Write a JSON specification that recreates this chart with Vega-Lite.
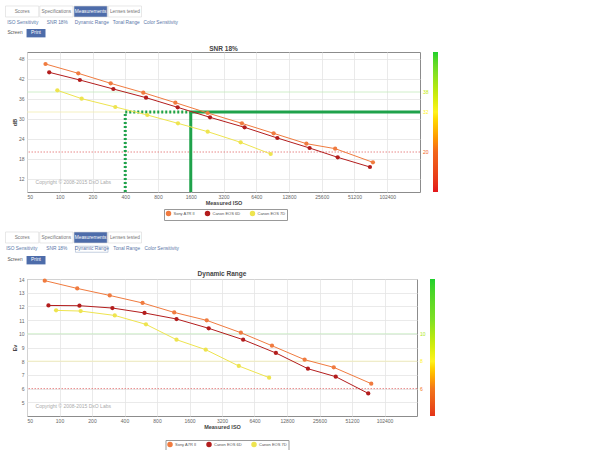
{
  "$schema": "https://vega.github.io/schema/vega-lite/v6.json",
  "background": "white",
  "padding": 5,
  "columns": 1,
  "align": "none",
  "spacing": 0,
  "datasets": {
    "tabs": [{"label": "Scores"}, {"label": "Specifications"}, {"label": "Measurements"}, {"label": "Lenses tested"}],
    "links": [{"label": "ISO Sensitivity"}, {"label": "SNR 18%"}, {"label": "Dynamic Range"}, {"label": "Tonal Range"}, {"label": "Color Sensitivity"}],
    "modes": [{"label": "Screen"}, {"label": "Print"}],
    "snr": [
      {"camera": "Sony A7R II", "iso": 74, "value": 46.4},
      {"camera": "Sony A7R II", "iso": 148, "value": 43.6},
      {"camera": "Sony A7R II", "iso": 294, "value": 40.6},
      {"camera": "Sony A7R II", "iso": 586, "value": 37.8},
      {"camera": "Sony A7R II", "iso": 1155, "value": 34.8},
      {"camera": "Sony A7R II", "iso": 2290, "value": 31.7},
      {"camera": "Sony A7R II", "iso": 4725, "value": 28.6},
      {"camera": "Sony A7R II", "iso": 9250, "value": 25.6},
      {"camera": "Sony A7R II", "iso": 18490, "value": 22.5},
      {"camera": "Sony A7R II", "iso": 34000, "value": 21.0},
      {"camera": "Sony A7R II", "iso": 75600, "value": 16.9},
      {"camera": "Canon EOS 6D", "iso": 80, "value": 43.9},
      {"camera": "Canon EOS 6D", "iso": 153, "value": 41.6},
      {"camera": "Canon EOS 6D", "iso": 311, "value": 38.9},
      {"camera": "Canon EOS 6D", "iso": 621, "value": 36.3},
      {"camera": "Canon EOS 6D", "iso": 1213, "value": 33.4},
      {"camera": "Canon EOS 6D", "iso": 2406, "value": 30.4},
      {"camera": "Canon EOS 6D", "iso": 5000, "value": 27.4},
      {"camera": "Canon EOS 6D", "iso": 10000, "value": 24.2},
      {"camera": "Canon EOS 6D", "iso": 19800, "value": 21.2},
      {"camera": "Canon EOS 6D", "iso": 35900, "value": 18.4},
      {"camera": "Canon EOS 6D", "iso": 71000, "value": 15.5},
      {"camera": "Canon EOS 7D", "iso": 95, "value": 38.5},
      {"camera": "Canon EOS 7D", "iso": 159, "value": 36.0},
      {"camera": "Canon EOS 7D", "iso": 324, "value": 33.5},
      {"camera": "Canon EOS 7D", "iso": 638, "value": 31.1},
      {"camera": "Canon EOS 7D", "iso": 1221, "value": 28.6},
      {"camera": "Canon EOS 7D", "iso": 2290, "value": 26.1},
      {"camera": "Canon EOS 7D", "iso": 4600, "value": 22.9},
      {"camera": "Canon EOS 7D", "iso": 8690, "value": 19.4}
    ],
    "dr": [
      {"camera": "Sony A7R II", "iso": 73, "value": 13.88},
      {"camera": "Sony A7R II", "iso": 146, "value": 13.31},
      {"camera": "Sony A7R II", "iso": 292, "value": 12.8},
      {"camera": "Sony A7R II", "iso": 588, "value": 12.25},
      {"camera": "Sony A7R II", "iso": 1155, "value": 11.56},
      {"camera": "Sony A7R II", "iso": 2310, "value": 10.98},
      {"camera": "Sony A7R II", "iso": 4785, "value": 10.08},
      {"camera": "Sony A7R II", "iso": 9290, "value": 9.13},
      {"camera": "Sony A7R II", "iso": 18650, "value": 8.11},
      {"camera": "Sony A7R II", "iso": 34700, "value": 7.55},
      {"camera": "Sony A7R II", "iso": 77200, "value": 6.36},
      {"camera": "Canon EOS 6D", "iso": 79, "value": 12.07},
      {"camera": "Canon EOS 6D", "iso": 153, "value": 12.05},
      {"camera": "Canon EOS 6D", "iso": 309, "value": 11.88},
      {"camera": "Canon EOS 6D", "iso": 613, "value": 11.52},
      {"camera": "Canon EOS 6D", "iso": 1213, "value": 11.08},
      {"camera": "Canon EOS 6D", "iso": 2410, "value": 10.4},
      {"camera": "Canon EOS 6D", "iso": 5025, "value": 9.57},
      {"camera": "Canon EOS 6D", "iso": 10100, "value": 8.6},
      {"camera": "Canon EOS 6D", "iso": 20000, "value": 7.45},
      {"camera": "Canon EOS 6D", "iso": 36200, "value": 6.87},
      {"camera": "Canon EOS 6D", "iso": 72400, "value": 5.65},
      {"camera": "Canon EOS 7D", "iso": 93, "value": 11.71},
      {"camera": "Canon EOS 7D", "iso": 157, "value": 11.66},
      {"camera": "Canon EOS 7D", "iso": 325, "value": 11.34},
      {"camera": "Canon EOS 7D", "iso": 632, "value": 10.69},
      {"camera": "Canon EOS 7D", "iso": 1213, "value": 9.57},
      {"camera": "Canon EOS 7D", "iso": 2262, "value": 8.84},
      {"camera": "Canon EOS 7D", "iso": 4580, "value": 7.65},
      {"camera": "Canon EOS 7D", "iso": 8740, "value": 6.8}
    ],
    "snrThresholds": [{"level": "good", "value": 38}, {"level": "average", "value": 32}, {"level": "poor", "value": 20}],
    "drThresholds": [{"level": "good", "value": 10}, {"level": "average", "value": 8}, {"level": "poor", "value": 6}],
    "snrMarker": [
      {"kind": "solid", "iso": 1600, "iso2": 204800, "value": 32, "value2": 32},
      {"kind": "solid", "iso": 1600, "iso2": 1600, "value": 8, "value2": 32},
      {"kind": "dotted", "iso": 400, "iso2": 1600, "value": 32, "value2": 32},
      {"kind": "dotted", "iso": 400, "iso2": 400, "value": 8, "value2": 32}
    ],
    "note": [{"text": "Copyright © 2008-2015 DxO Labs"}]
  },
  "concat": [
    {
      "width": 136, "height": 11, "view": {"stroke": null},
      "data": {"name": "tabs"},
      "encoding": {
        "x": {"field": "label", "type": "nominal", "axis": null, "scale": {"domain": ["Scores", "Specifications", "Measurements", "Lenses tested"], "paddingInner": 0.03, "paddingOuter": 0}}
      },
      "layer": [
        {"mark": {"type": "bar", "stroke": "#d9d9d9", "strokeWidth": 0.6, "xOffset": -21.5}, "encoding": {"fill": {"condition": {"test": "datum.label === 'Measurements'", "value": "#4d6caa"}, "value": "#ffffff"}}},
        {"mark": {"type": "text", "fontSize": 4.8, "baseline": "middle", "xOffset": -21.5}, "encoding": {"text": {"field": "label"}, "fill": {"condition": {"test": "datum.label === 'Measurements'", "value": "#ffffff"}, "value": "#777777"}}}
      ]
    },
    {
      "width": 172.5, "height": 10, "view": {"stroke": null},
      "data": {"name": "links"},
      "encoding": {
        "x": {"field": "label", "type": "nominal", "axis": null, "scale": {"domain": ["ISO Sensitivity", "SNR 18%", "Dynamic Range", "Tonal Range", "Color Sensitivity"], "paddingInner": 0.07, "paddingOuter": 0}}
      },
      "layer": [
        {"mark": {"type": "text", "fontSize": 4.8, "baseline": "middle", "fill": "#5b77a8", "xOffset": -21.5}, "encoding": {"text": {"field": "label"}}}
      ]
    },
    {
      "width": 40, "height": 16.5, "view": {"stroke": null},
      "data": {"name": "modes"},
      "encoding": {
        "x": {"field": "label", "type": "nominal", "axis": null, "scale": {"domain": ["Screen", "Print"], "paddingInner": 0.1, "paddingOuter": 0}},
        "y": {"datum": "mode", "type": "nominal", "axis": null, "scale": {"domain": ["mode"], "paddingInner": 0.2, "paddingOuter": 0.386, "align": 0.12}}
      },
      "layer": [
        {"transform": [{"filter": "datum.label === 'Print'"}], "mark": {"type": "bar", "fill": "#4d6caa", "xOffset": -21.5}},
        {"mark": {"type": "text", "fontSize": 4.8, "baseline": "middle", "xOffset": -21.5}, "encoding": {"text": {"field": "label"}, "fill": {"condition": {"test": "datum.label === 'Print'", "value": "#ffffff"}, "value": "#555555"}}}
      ]
    },
    {
      "width": 393,
      "height": 140,
      "title": {"text": "SNR 18%", "frame": "group", "anchor": "middle", "offset": 0},
      "layer": [
        {
          "data": {"name": "snrThresholds"},
          "mark": {"type": "rule", "strokeWidth": 0.8},
          "encoding": {
            "y": {"field": "value", "type": "quantitative", "title": "dB", "scale": {"domain": [8, 50], "nice": false, "zero": false}, "axis": {"values": [12, 18, 24, 30, 36, 42, 48], "tickCount": 20, "format": "d", "minExtent": 21.5, "titleX": -9.5}},
            "stroke": {"field": "level", "type": "nominal", "scale": {"domain": ["good", "average", "poor"], "range": ["#c4ebbd", "#f2eeb0", "#e26a6a"]}, "legend": null},
            "strokeDash": {"field": "level", "type": "nominal", "scale": {"domain": ["good", "average", "poor", "solid", "dotted"], "range": [[1, 0], [1, 0], [1.5, 1.5], [1, 0], [2, 2]]}, "legend": null}
          }
        },
        {
          "data": {"name": "snrMarker"},
          "mark": {"type": "rule", "strokeWidth": 3, "color": "#1fa24b", "strokeCap": "butt"},
          "encoding": {
            "x": {"field": "iso", "type": "quantitative", "title": "Measured ISO", "axis": {"values": [50, 100, 200, 400, 800, 1600, 3200, 6400, 12800, 25600, 51200, 102400], "tickCount": 20, "format": "d"}},
            "x2": {"field": "iso2"},
            "y": {"field": "value", "type": "quantitative", "title": "dB", "axis": {"values": [12, 18, 24, 30, 36, 42, 48], "tickCount": 20, "format": "d", "minExtent": 21.5, "titleX": -9.5}},
            "y2": {"field": "value2"},
            "strokeDash": {"field": "kind", "type": "nominal", "scale": {"domain": ["good", "average", "poor", "solid", "dotted"], "range": [[1, 0], [1, 0], [1.5, 1.5], [1, 0], [2, 2]]}, "legend": null}
          }
        },
        {
          "data": {"name": "snr"},
          "mark": {"type": "point", "filled": true, "size": 18, "opacity": 1},
          "encoding": {
            "x": {"field": "iso", "type": "quantitative", "title": "Measured ISO", "scale": {"type": "log", "base": 2, "domain": [50, 204800], "nice": false}, "axis": {"values": [50, 100, 200, 400, 800, 1600, 3200, 6400, 12800, 25600, 51200, 102400], "tickCount": 20, "format": "d"}},
            "y": {"field": "value", "type": "quantitative", "title": "dB", "axis": {"values": [12, 18, 24, 30, 36, 42, 48], "tickCount": 20, "format": "d", "minExtent": 21.5, "titleX": -9.5}},
            "color": {"field": "camera", "type": "nominal", "scale": {"domain": ["Sony A7R II", "Canon EOS 6D", "Canon EOS 7D"], "range": ["#f07b3f", "#b31d1d", "#eee44f"]}, "legend": {"title": null, "orient": "none", "legendX": 137, "legendY": 157, "direction": "horizontal", "symbolType": "circle", "symbolSize": 16, "labelFontSize": 4, "labelColor": "#555", "labelOffset": 2, "strokeColor": "#999", "padding": 1.5, "columnPadding": 7}}
          }
        },
        {
          "data": {"name": "snr"},
          "mark": {"type": "line", "strokeWidth": 1},
          "encoding": {
            "x": {"field": "iso", "type": "quantitative", "title": "Measured ISO", "axis": {"values": [50, 100, 200, 400, 800, 1600, 3200, 6400, 12800, 25600, 51200, 102400], "tickCount": 20, "format": "d"}},
            "y": {"field": "value", "type": "quantitative", "title": "dB", "axis": {"values": [12, 18, 24, 30, 36, 42, 48], "tickCount": 20, "format": "d", "minExtent": 21.5, "titleX": -9.5}},
            "color": {"field": "camera", "type": "nominal"}
          }
        },
        {
          "data": {"name": "snrThresholds"},
          "mark": {"type": "text", "fontSize": 5, "align": "left", "baseline": "middle", "dx": 3},
          "encoding": {
            "x": {"datum": 204800, "type": "quantitative"},
            "y": {"field": "value", "type": "quantitative", "title": "dB", "axis": {"values": [12, 18, 24, 30, 36, 42, 48], "tickCount": 20, "format": "d", "minExtent": 21.5, "titleX": -9.5}},
            "text": {"field": "value"},
            "fill": {"field": "value", "type": "quantitative", "scale": {"domain": [8, 20, 32, 44, 50], "range": ["#e3161b", "#f2651b", "#fff21e", "#7fe024", "#1fd02c"]}, "legend": {"title": null, "orient": "right", "direction": "vertical", "gradientLength": 140, "gradientThickness": 5, "offset": 13, "labelExpr": "''", "gradientStrokeWidth": 0}}
          }
        },
        {
          "data": {"name": "note"},
          "mark": {"type": "text", "fontSize": 5, "align": "left", "baseline": "middle", "fill": "#aaaaaa"},
          "encoding": {
            "x": {"datum": 60, "type": "quantitative"},
            "y": {"datum": 11, "type": "quantitative"},
            "text": {"field": "text"}
          }
        }
      ]
    },
    {
      "width": 136, "height": 22, "view": {"stroke": null},
      "data": {"name": "tabs"},
      "encoding": {
        "x": {"field": "label", "type": "nominal", "axis": null, "scale": {"domain": ["Scores", "Specifications", "Measurements", "Lenses tested"], "paddingInner": 0.03, "paddingOuter": 0}},
        "y": {"datum": "tabs", "type": "nominal", "axis": null, "scale": {"domain": ["tabs"], "paddingInner": 0, "paddingOuter": 0.5, "align": 1}}
      },
      "layer": [
        {"mark": {"type": "bar", "stroke": "#d9d9d9", "strokeWidth": 0.6, "xOffset": -21.5}, "encoding": {"fill": {"condition": {"test": "datum.label === 'Measurements'", "value": "#4d6caa"}, "value": "#ffffff"}}},
        {"mark": {"type": "text", "fontSize": 4.8, "baseline": "middle", "xOffset": -21.5}, "encoding": {"text": {"field": "label"}, "fill": {"condition": {"test": "datum.label === 'Measurements'", "value": "#ffffff"}, "value": "#777777"}}}
      ]
    },
    {
      "width": 172.5, "height": 10.5, "view": {"stroke": null},
      "data": {"name": "links"},
      "encoding": {
        "x": {"field": "label", "type": "nominal", "axis": null, "scale": {"domain": ["ISO Sensitivity", "SNR 18%", "Dynamic Range", "Tonal Range", "Color Sensitivity"], "paddingInner": 0.07, "paddingOuter": 0}},
        "y": {"datum": "links", "type": "nominal", "axis": null, "scale": {"domain": ["links"], "paddingInner": 0, "paddingOuter": 0.375, "align": 0.5}}
      },
      "layer": [
        {"transform": [{"filter": "datum.label === 'Dynamic Range'"}], "mark": {"type": "bar", "fill": "#ffffff", "stroke": "#9fb0cc", "strokeWidth": 0.6, "xOffset": -21.5}},
        {"mark": {"type": "text", "fontSize": 4.8, "baseline": "middle", "fill": "#5b77a8", "xOffset": -21.5}, "encoding": {"text": {"field": "label"}}}
      ]
    },
    {
      "width": 40, "height": 15, "view": {"stroke": null},
      "data": {"name": "modes"},
      "encoding": {
        "x": {"field": "label", "type": "nominal", "axis": null, "scale": {"domain": ["Screen", "Print"], "paddingInner": 0.1, "paddingOuter": 0}},
        "y": {"datum": "mode", "type": "nominal", "axis": null, "scale": {"domain": ["mode"], "paddingInner": 0.2, "paddingOuter": 0.314, "align": 0.15}}
      },
      "layer": [
        {"transform": [{"filter": "datum.label === 'Print'"}], "mark": {"type": "bar", "fill": "#4d6caa", "xOffset": -21.5}},
        {"mark": {"type": "text", "fontSize": 4.8, "baseline": "middle", "xOffset": -21.5}, "encoding": {"text": {"field": "label"}, "fill": {"condition": {"test": "datum.label === 'Print'", "value": "#ffffff"}, "value": "#555555"}}}
      ]
    },
    {
      "width": 390,
      "height": 137,
      "title": {"text": "Dynamic Range", "frame": "group", "anchor": "middle", "offset": 0},
      "layer": [
        {
          "data": {"name": "drThresholds"},
          "mark": {"type": "rule", "strokeWidth": 0.8},
          "encoding": {
            "y": {"field": "value", "type": "quantitative", "title": "Ev", "scale": {"domain": [4, 14], "nice": false, "zero": false}, "axis": {"values": [5, 6, 7, 8, 9, 10, 11, 12, 13, 14], "tickCount": 20, "format": "d", "minExtent": 21.5, "titleX": -10}},
            "stroke": {"field": "level", "type": "nominal", "scale": {"domain": ["good", "average", "poor"], "range": ["#c4ebbd", "#f2eeb0", "#e26a6a"]}, "legend": null},
            "strokeDash": {"field": "level", "type": "nominal", "scale": {"domain": ["good", "average", "poor"], "range": [[1, 0], [1, 0], [1.5, 1.5]]}, "legend": null}
          }
        },
        {
          "data": {"name": "dr"},
          "mark": {"type": "point", "filled": true, "size": 18, "opacity": 1},
          "encoding": {
            "x": {"field": "iso", "type": "quantitative", "title": "Measured ISO", "scale": {"type": "log", "base": 2, "domain": [50, 204800], "nice": false}, "axis": {"values": [50, 100, 200, 400, 800, 1600, 3200, 6400, 12800, 25600, 51200, 102400], "tickCount": 20, "format": "d"}},
            "y": {"field": "value", "type": "quantitative", "title": "Ev", "axis": {"values": [5, 6, 7, 8, 9, 10, 11, 12, 13, 14], "tickCount": 20, "format": "d", "minExtent": 21.5, "titleX": -10}},
            "color": {"field": "camera", "type": "nominal", "scale": {"domain": ["Sony A7R II", "Canon EOS 6D", "Canon EOS 7D"], "range": ["#f07b3f", "#b31d1d", "#eee44f"]}, "legend": {"title": null, "orient": "none", "legendX": 138.5, "legendY": 161, "direction": "horizontal", "symbolType": "circle", "symbolSize": 16, "labelFontSize": 4, "labelColor": "#555", "labelOffset": 2, "strokeColor": "#999", "padding": 1.5, "columnPadding": 7}}
          }
        },
        {
          "data": {"name": "dr"},
          "mark": {"type": "line", "strokeWidth": 1},
          "encoding": {
            "x": {"field": "iso", "type": "quantitative", "title": "Measured ISO", "axis": {"values": [50, 100, 200, 400, 800, 1600, 3200, 6400, 12800, 25600, 51200, 102400], "tickCount": 20, "format": "d"}},
            "y": {"field": "value", "type": "quantitative", "title": "Ev", "axis": {"values": [5, 6, 7, 8, 9, 10, 11, 12, 13, 14], "tickCount": 20, "format": "d", "minExtent": 21.5, "titleX": -10}},
            "color": {"field": "camera", "type": "nominal"}
          }
        },
        {
          "data": {"name": "drThresholds"},
          "mark": {"type": "text", "fontSize": 5, "align": "left", "baseline": "middle", "dx": 3},
          "encoding": {
            "x": {"datum": 204800, "type": "quantitative"},
            "y": {"field": "value", "type": "quantitative", "title": "Ev", "axis": {"values": [5, 6, 7, 8, 9, 10, 11, 12, 13, 14], "tickCount": 20, "format": "d", "minExtent": 21.5, "titleX": -10}},
            "text": {"field": "value"},
            "fill": {"field": "value", "type": "quantitative", "scale": {"domain": [4, 6, 8, 11, 14], "range": ["#e4331a", "#f2761b", "#fff21e", "#7fe024", "#1fd02c"]}, "legend": {"title": null, "orient": "right", "direction": "vertical", "gradientLength": 137, "gradientThickness": 5, "offset": 13, "labelExpr": "''", "gradientStrokeWidth": 0}}
          }
        },
        {
          "data": {"name": "note"},
          "mark": {"type": "text", "fontSize": 5, "align": "left", "baseline": "middle", "fill": "#aaaaaa"},
          "encoding": {
            "x": {"datum": 60, "type": "quantitative"},
            "y": {"datum": 4.7, "type": "quantitative"},
            "text": {"field": "text"}
          }
        }
      ]
    }
  ],
  "resolve": {
    "scale": {"x": "independent", "y": "independent", "color": "independent", "fill": "independent", "stroke": "independent", "strokeDash": "independent"},
    "legend": {"color": "independent", "fill": "independent"}
  },
  "config": {
    "font": "Liberation Sans",
    "view": {"stroke": "#8c8c8c", "strokeWidth": 1},
    "title": {"fontSize": 6.5, "fontWeight": "bold", "color": "#444444"},
    "axis": {"labelFontSize": 5, "labelColor": "#666666", "titleFontSize": 5.5, "titleColor": "#444444", "titleFontWeight": "bold", "gridColor": "#e4e4e4", "gridWidth": 0.8, "ticks": false, "domain": false, "labelPadding": 2, "titlePadding": 1.5, "labelOverlap": false},
    "axisY": {"labelPadding": 3},
    "legend": {"labelFont": "Liberation Sans"}
  }
}
